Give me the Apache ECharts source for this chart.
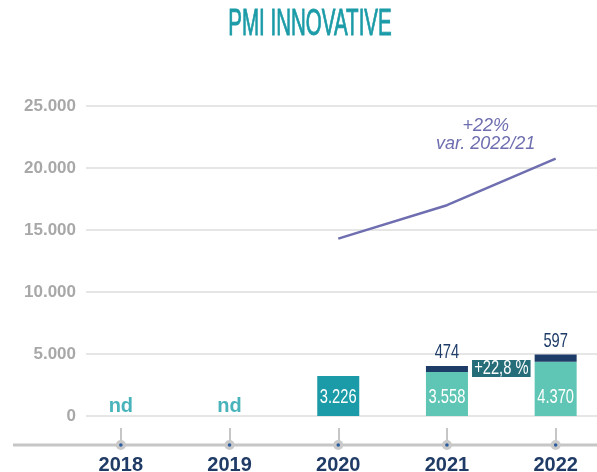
<!DOCTYPE html>
<html lang="it">
<head>
    <meta charset="UTF-8">
    <script src="https://cdn.jsdelivr.net/npm/echarts@6/dist/echarts.min.js"></script>
    <style>
        html, body { margin: 0; padding: 0; background: #fff; }
    </style>
</head>
<body>
<div id="main" style="width: 597px;height:472px;"></div>
<script type="text/javascript">
    // dati
    var years = ['2018', '2019', '2020', '2021', '2022'];
    var baseValues = ['-', '-', 3226, 3558, 4370];
    var topValues = ['-', '-', '-', 474, 597];
    var lineValues = ['-', '-', 14300, 17000, 20750];
    var ndValues = [0, 0, '-', '-', '-'];
    var growthLabel = '+22,8 %';
    var growthValue = 3830;
    var lineNote = '+22%\nvar. 2022/21';

    var sans = '"Liberation Sans", Arial, sans-serif';

    function fmt(v) {
        return String(v).replace(/\B(?=(\d{3})+(?!\d))/g, '.');
    }

    var myChart = echarts.init(document.getElementById('main'));

    var option = {
        animation: false,
        grid: [
            {left: 66.5, right: -13, top: 106, bottom: 56, outerBoundsMode: 'none'},
            {left: 86, right: 0, top: 106, bottom: 56, outerBoundsMode: 'none'},
            {left: 66.5, right: -13, top: 440, bottom: 27, outerBoundsMode: 'none'}
        ],
        xAxis: [
            {type: 'category', gridIndex: 0, data: years, show: false},
            {type: 'value', gridIndex: 1, show: false, min: 0, max: 1},
            {
                type: 'category',
                gridIndex: 2,
                data: years,
                axisLine: {show: false},
                axisTick: {
                    show: true, inside: true, length: 17, alignWithLabel: true,
                    lineStyle: {color: '#c6c6c6', width: 2}
                },
                axisLabel: {
                    margin: 10, color: '#1f3b66', fontSize: 20, fontWeight: 'bold',
                    fontFamily: sans
                }
            }
        ],
        yAxis: [
            {type: 'value', gridIndex: 0, show: false, min: 0, max: 25000, interval: 5000},
            {
                type: 'value', gridIndex: 1, min: 0, max: 25000, interval: 5000,
                axisLine: {show: false},
                axisTick: {show: false},
                splitLine: {lineStyle: {color: '#e6e6e6', width: 2}},
                axisLabel: {
                    margin: 10, color: '#a8a8a8', fontSize: 17, fontWeight: 'bold',
                    fontFamily: sans,
                    formatter: function (v) { return fmt(v); }
                }
            },
            {type: 'value', gridIndex: 2, show: false}
        ],
        series: [
            {
                name: 'base',
                type: 'bar',
                stack: 'tot',
                barWidth: 42,
                data: baseValues.map(function (v, i) {
                    return {value: v, itemStyle: {color: i === 2 ? '#1b9ba7' : '#5fc5b4'}};
                })
            },
            {
                name: 'top',
                type: 'bar',
                stack: 'tot',
                barWidth: 42,
                itemStyle: {color: '#1e3c68'},
                data: topValues
            },
            {
                name: 'nd',
                type: 'scatter',
                symbolSize: 0,
                data: ndValues,
                label: {
                    show: true, position: 'top', distance: 0, formatter: 'nd',
                    color: '#1aa0a9', fontSize: 20, fontWeight: 'bold',
                    fontFamily: sans
                }
            },
            {
                name: 'pmi',
                type: 'line',
                data: lineValues,
                showSymbol: false,
                lineStyle: {color: '#6e6eb0', width: 2.5}
            }
        ]
    };

    myChart.setOption(option);

    // elementi grafici: titolo, asse, pallini, etichette strette, riquadro variazione, nota
    var y0 = myChart.convertToPixel({yAxisIndex: 0}, 0);
    var axisY = y0 + 29;
    var graphics = [
        {
            type: 'text', x: 310, y: 25, scaleX: 0.57,
            style: {
                text: 'PMI INNOVATIVE', fill: '#1b9ba7', fontSize: 36,
                stroke: '#1b9ba7', lineWidth: 0.9,
                fontFamily: sans, align: 'center', verticalAlign: 'middle'
            }
        },
        {
            type: 'line', z: 1,
            shape: {x1: 13, y1: axisY, x2: 597, y2: axisY},
            style: {stroke: '#c6c6c6', lineWidth: 3}
        }
    ];
    years.forEach(function (y, i) {
        var px = myChart.convertToPixel({xAxisIndex: 0}, y);
        graphics.push({
            type: 'circle', z: 2, shape: {cx: px, cy: axisY, r: 5},
            style: {fill: '#c9c9c9'}
        });
        graphics.push({
            type: 'circle', z: 3, shape: {cx: px, cy: axisY, r: 1.8},
            style: {fill: '#2b5c9e'}
        });
        if (baseValues[i] !== '-') {
            graphics.push({
                type: 'text', z: 10, x: px, y: y0 - 19, scaleX: 0.7,
                style: {
                    text: fmt(baseValues[i]), fill: '#fff', fontSize: 21,
                    fontFamily: sans, align: 'center', verticalAlign: 'middle'
                }
            });
        }
        if (topValues[i] !== '-') {
            graphics.push({
                type: 'text', z: 10, x: px, scaleX: 0.7,
                y: myChart.convertToPixel({yAxisIndex: 0}, baseValues[i] + topValues[i]) - 3,
                style: {
                    text: String(topValues[i]), fill: '#1e3c68', fontSize: 21,
                    fontFamily: sans, align: 'center', verticalAlign: 'bottom'
                }
            });
        }
    });
    var x21 = myChart.convertToPixel({xAxisIndex: 0}, '2021');
    var x22 = myChart.convertToPixel({xAxisIndex: 0}, '2022');
    graphics.push({
        type: 'text', z: 10, scaleX: 0.7,
        x: (x21 + x22) / 2,
        y: myChart.convertToPixel({yAxisIndex: 0}, growthValue),
        style: {
            text: growthLabel, fill: '#fff', fontSize: 21, fontFamily: sans,
            backgroundColor: '#256e79', padding: [0, 3], lineHeight: 17,
            align: 'center', verticalAlign: 'middle'
        }
    });
    graphics.push({
        type: 'text', z: 10,
        x: x22 - 70,
        y: myChart.convertToPixel({yAxisIndex: 0}, lineValues[4]) - 24,
        style: {
            text: lineNote, fill: '#6e6eb0', fontSize: 18, fontStyle: 'italic',
            fontFamily: sans, lineHeight: 18,
            align: 'center', verticalAlign: 'middle'
        }
    });
    myChart.setOption({graphic: graphics});
</script>
</body>
</html>
